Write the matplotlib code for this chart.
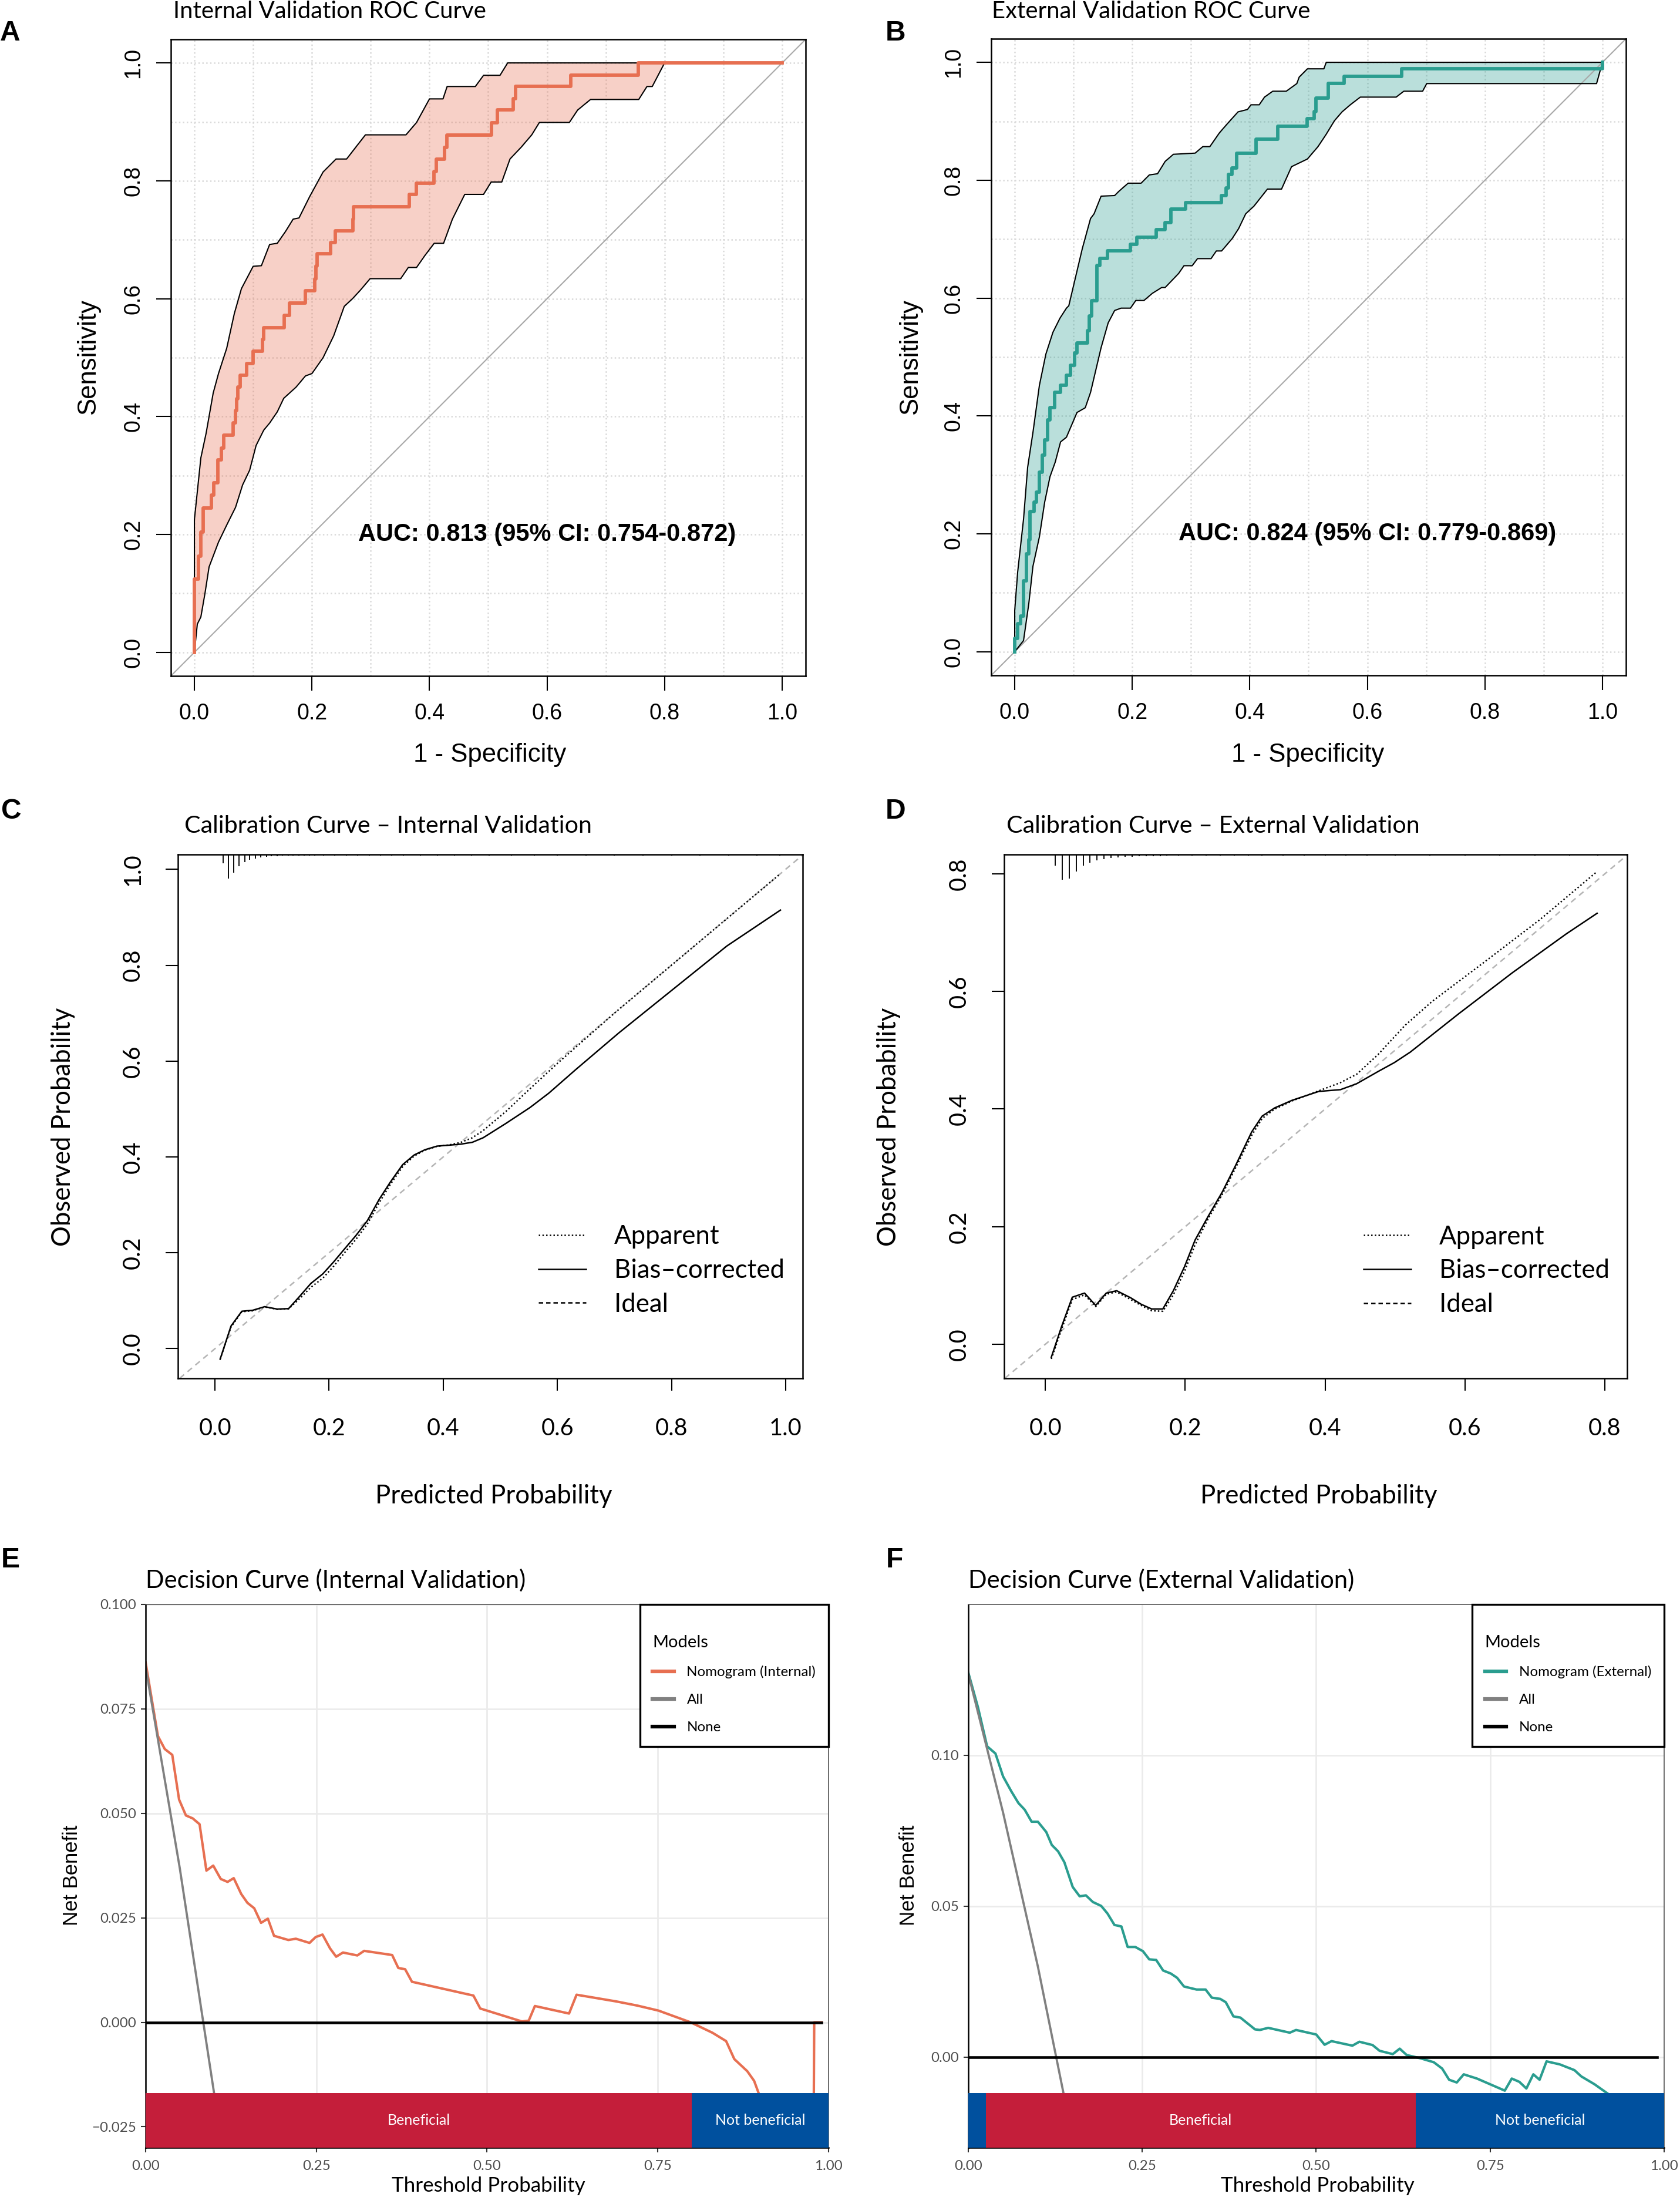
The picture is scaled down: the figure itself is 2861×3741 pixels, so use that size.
import numpy as np
import matplotlib.pyplot as plt
from matplotlib.lines import Line2D

W, H = 2862, 3741
DPI = 300

ORANGE = '#E76F51'
TEAL = '#2A9D8F'
RED = '#C41E3A'
BLUE = '#00509E'
MYR = ['Lato', 'DejaVu Sans']
HEL = ['Liberation Sans', 'DejaVu Sans']
NARROW = ['Liberation Sans Narrow', 'Liberation Sans', 'DejaVu Sans']

# ---------------- ROC data (1 - specificity, sensitivity) ----------------
roc_int = [(0, 0), (0, 0.124), (0.007, 0.163), (0.011, 0.204), (0.015, 0.245), (0.029, 0.267),
           (0.033, 0.288), (0.040, 0.327), (0.046, 0.347), (0.05, 0.368), (0.066, 0.389), (0.07, 0.41),
           (0.072, 0.43), (0.074, 0.45), (0.078, 0.47), (0.089, 0.49), (0.1, 0.511), (0.116, 0.531),
           (0.118, 0.551), (0.153, 0.572), (0.162, 0.593), (0.189, 0.614), (0.205, 0.634), (0.207, 0.655),
           (0.209, 0.676), (0.232, 0.695), (0.24, 0.715), (0.27, 0.735), (0.271, 0.756), (0.366, 0.777),
           (0.378, 0.796), (0.408, 0.816), (0.412, 0.837), (0.426, 0.857), (0.43, 0.878), (0.505, 0.899),
           (0.515, 0.92), (0.542, 0.939), (0.546, 0.96), (0.64, 0.979), (0.755, 1.0), (1.0, 1.0)]
roc_int_upper = [(0, 0), (0, 0.225), (0.011, 0.33), (0.02, 0.372), (0.032, 0.44), (0.041, 0.473),
                 (0.055, 0.516), (0.068, 0.575), (0.08, 0.617), (0.1, 0.655), (0.114, 0.656), (0.128, 0.692),
                 (0.141, 0.694), (0.155, 0.714), (0.168, 0.735), (0.178, 0.737), (0.196, 0.773), (0.219, 0.815),
                 (0.241, 0.837), (0.259, 0.837), (0.273, 0.855), (0.291, 0.878), (0.36, 0.878), (0.378, 0.899),
                 (0.4, 0.939), (0.423, 0.939), (0.43, 0.96), (0.478, 0.96), (0.492, 0.979), (0.52, 0.979),
                 (0.533, 1.0), (1.0, 1.0)]
roc_int_lower = [(0, 0), (0.005, 0.048), (0.011, 0.06), (0.018, 0.1), (0.025, 0.145), (0.041, 0.187),
                 (0.055, 0.216), (0.07, 0.246), (0.082, 0.284), (0.094, 0.309), (0.105, 0.351), (0.118, 0.377),
                 (0.128, 0.389), (0.141, 0.408), (0.152, 0.431), (0.173, 0.45), (0.189, 0.469), (0.2, 0.473),
                 (0.219, 0.5), (0.237, 0.537), (0.255, 0.587), (0.269, 0.6), (0.282, 0.614), (0.299, 0.634),
                 (0.351, 0.634), (0.364, 0.653), (0.378, 0.653), (0.392, 0.673), (0.408, 0.694), (0.424, 0.694),
                 (0.439, 0.735), (0.46, 0.777), (0.492, 0.777), (0.505, 0.798), (0.523, 0.798), (0.537, 0.837),
                 (0.556, 0.857), (0.574, 0.878), (0.587, 0.899), (0.638, 0.899), (0.652, 0.92), (0.674, 0.938),
                 (0.756, 0.938), (0.77, 0.96), (0.779, 0.96), (0.8, 1.0), (1.0, 1.0)]

roc_ext = [(0, 0), (0, 0.023), (0.005, 0.048), (0.01, 0.061), (0.015, 0.12), (0.02, 0.166), (0.024, 0.19),
           (0.026, 0.238), (0.033, 0.254), (0.037, 0.271), (0.042, 0.305), (0.047, 0.334), (0.051, 0.36),
           (0.056, 0.393), (0.06, 0.414), (0.068, 0.44), (0.078, 0.452), (0.088, 0.469), (0.095, 0.486),
           (0.102, 0.507), (0.106, 0.524), (0.124, 0.545), (0.127, 0.57), (0.131, 0.596), (0.14, 0.655),
           (0.145, 0.667), (0.158, 0.68), (0.197, 0.691), (0.208, 0.703), (0.241, 0.716), (0.256, 0.728),
           (0.266, 0.751), (0.291, 0.762), (0.352, 0.774), (0.36, 0.787), (0.364, 0.81), (0.37, 0.821),
           (0.378, 0.846), (0.411, 0.87), (0.448, 0.892), (0.498, 0.905), (0.509, 0.916), (0.512, 0.939),
           (0.533, 0.964), (0.56, 0.976), (0.658, 0.989), (1.0, 1.0)]
roc_ext_upper = [(0, 0), (0, 0.07), (0.005, 0.135), (0.015, 0.225), (0.022, 0.313), (0.031, 0.372),
                 (0.042, 0.452), (0.053, 0.505), (0.065, 0.542), (0.077, 0.566), (0.088, 0.583), (0.092, 0.587),
                 (0.101, 0.625), (0.115, 0.684), (0.129, 0.735), (0.135, 0.743), (0.147, 0.773), (0.17, 0.774),
                 (0.177, 0.781), (0.193, 0.795), (0.215, 0.795), (0.229, 0.809), (0.243, 0.811), (0.256, 0.832),
                 (0.27, 0.844), (0.307, 0.846), (0.32, 0.857), (0.332, 0.857), (0.348, 0.88), (0.361, 0.895),
                 (0.38, 0.916), (0.396, 0.92), (0.402, 0.928), (0.416, 0.928), (0.425, 0.941), (0.439, 0.951),
                 (0.462, 0.951), (0.48, 0.964), (0.484, 0.975), (0.498, 0.989), (0.526, 0.989), (0.53, 1.0),
                 (1.0, 1.0)]
roc_ext_lower = [(0, 0), (0.015, 0.019), (0.024, 0.082), (0.031, 0.145), (0.042, 0.195), (0.051, 0.254),
                 (0.06, 0.297), (0.069, 0.322), (0.078, 0.356), (0.088, 0.364), (0.106, 0.406), (0.12, 0.414),
                 (0.129, 0.44), (0.138, 0.478), (0.147, 0.516), (0.159, 0.558), (0.17, 0.579), (0.181, 0.583),
                 (0.197, 0.583), (0.206, 0.596), (0.22, 0.596), (0.234, 0.608), (0.25, 0.618), (0.256, 0.618),
                 (0.279, 0.642), (0.288, 0.655), (0.302, 0.655), (0.311, 0.667), (0.334, 0.667), (0.343, 0.68),
                 (0.352, 0.68), (0.37, 0.701), (0.381, 0.718), (0.393, 0.743), (0.407, 0.756), (0.43, 0.785),
                 (0.454, 0.785), (0.471, 0.823), (0.498, 0.836), (0.516, 0.857), (0.53, 0.878), (0.544, 0.901),
                 (0.557, 0.916), (0.571, 0.928), (0.588, 0.941), (0.649, 0.941), (0.662, 0.951), (0.694, 0.951),
                 (0.701, 0.964), (0.99, 0.964), (1.0, 1.0)]

auc_int = 'AUC: 0.813 (95% CI: 0.754-0.872)'
auc_ext = 'AUC: 0.824 (95% CI: 0.779-0.869)'

# ---------------- calibration data (predicted, observed) ----------------
cal_int_bias = [(0.009, -0.022), (0.028, 0.047), (0.047, 0.078), (0.066, 0.08), (0.087, 0.0875), (0.109, 0.0825),
                (0.129, 0.0835), (0.149, 0.11), (0.168, 0.136), (0.189, 0.156), (0.208, 0.181), (0.227, 0.208),
                (0.247, 0.236), (0.267, 0.267), (0.288, 0.312), (0.307, 0.347), (0.329, 0.384), (0.349, 0.404),
                (0.368, 0.415), (0.389, 0.4225), (0.41, 0.4245), (0.43, 0.4265), (0.451, 0.4305), (0.47, 0.44),
                (0.51, 0.47), (0.552, 0.503), (0.585, 0.533), (0.633, 0.583), (0.708, 0.659), (0.803, 0.75),
                (0.897, 0.84), (0.991, 0.915)]
cal_int_app = [(0.009, -0.022), (0.028, 0.045), (0.047, 0.077), (0.066, 0.079), (0.087, 0.087), (0.109, 0.082),
               (0.129, 0.083), (0.149, 0.105), (0.168, 0.128), (0.189, 0.147), (0.208, 0.172), (0.227, 0.2),
               (0.247, 0.228), (0.267, 0.26), (0.288, 0.305), (0.307, 0.342), (0.329, 0.38), (0.349, 0.402),
               (0.368, 0.414), (0.389, 0.422), (0.41, 0.425), (0.43, 0.43), (0.451, 0.44), (0.47, 0.455),
               (0.51, 0.495), (0.55, 0.54), (0.6, 0.595), (0.7, 0.7), (0.8, 0.8), (0.9, 0.9), (0.99, 0.99)]
cal_int_spike_x = [0.014, 0.024, 0.033, 0.042, 0.052, 0.061, 0.071, 0.080, 0.090, 0.099, 0.109, 0.118, 0.128,
                   0.137, 0.147, 0.156, 0.166, 0.175, 0.19, 0.21, 0.23, 0.25, 0.27, 0.29, 0.31, 0.33, 0.36,
                   0.39, 0.42, 0.45, 0.48, 0.52, 0.56, 0.60, 0.65, 0.70, 0.75, 0.80, 0.85, 0.90, 0.95, 0.99]
cal_int_spike_h = [0.018, 0.05, 0.038, 0.025, 0.016, 0.011, 0.008, 0.006, 0.005, 0.004, 0.004, 0.003, 0.003,
                   0.003, 0.003, 0.003, 0.002, 0.002, 0.002, 0.002, 0.002, 0.002, 0.002, 0.002, 0.002, 0.002,
                   0.002, 0.002, 0.002, 0.002, 0.002, 0.002, 0.002, 0.002, 0.002, 0.002, 0.002, 0.002, 0.002,
                   0.002, 0.002, 0.002]

cal_ext_bias = [(0.0085, -0.022), (0.023, 0.0295), (0.0385, 0.080), (0.056, 0.087), (0.072, 0.066),
                (0.087, 0.087), (0.102, 0.091), (0.122, 0.079), (0.137, 0.068), (0.152, 0.06), (0.168, 0.06),
                (0.183, 0.091), (0.199, 0.132), (0.214, 0.177), (0.233, 0.218), (0.253, 0.259), (0.272, 0.304),
                (0.295, 0.361), (0.31, 0.388), (0.328, 0.402), (0.353, 0.415), (0.391, 0.43), (0.422, 0.433),
                (0.445, 0.443), (0.476, 0.464), (0.499, 0.479), (0.522, 0.497), (0.591, 0.562), (0.668, 0.632),
                (0.745, 0.698), (0.789, 0.733)]
cal_ext_app = [(0.0085, -0.025), (0.023, 0.025), (0.0385, 0.076), (0.056, 0.084), (0.072, 0.064), (0.087, 0.085),
               (0.102, 0.089), (0.122, 0.076), (0.137, 0.066), (0.152, 0.057), (0.168, 0.056), (0.183, 0.084),
               (0.199, 0.124), (0.214, 0.169), (0.233, 0.214), (0.253, 0.255), (0.272, 0.3), (0.295, 0.355),
               (0.31, 0.384), (0.328, 0.4), (0.353, 0.414), (0.391, 0.431), (0.422, 0.445), (0.445, 0.459),
               (0.476, 0.493), (0.514, 0.542), (0.553, 0.583), (0.63, 0.652), (0.707, 0.722), (0.789, 0.804)]
cal_ext_spike_x = [0.014, 0.024, 0.034, 0.044, 0.054, 0.064, 0.074, 0.084, 0.094, 0.104, 0.114, 0.124, 0.134,
                   0.144, 0.154, 0.164, 0.174, 0.19, 0.21, 0.23, 0.25, 0.27, 0.29, 0.31, 0.34, 0.37, 0.40,
                   0.43, 0.46, 0.50, 0.55, 0.60, 0.65, 0.70, 0.75, 0.79]
cal_ext_spike_h = [0.019, 0.043, 0.041, 0.029, 0.019, 0.014, 0.01, 0.008, 0.006, 0.005, 0.004, 0.004, 0.003,
                   0.003, 0.003, 0.003, 0.002, 0.002, 0.002, 0.002, 0.002, 0.002, 0.002, 0.002, 0.002, 0.002,
                   0.002, 0.002, 0.002, 0.002, 0.002, 0.002, 0.002, 0.002, 0.002, 0.002]

# ---------------- decision curve data (threshold, net benefit) ----------------
dca_int = [(0, 0.0861), (0.018, 0.0685), (0.028, 0.0654), (0.039, 0.064), (0.049, 0.0533), (0.059, 0.0495),
           (0.069, 0.0488), (0.079, 0.0474), (0.089, 0.0363), (0.099, 0.0375), (0.110, 0.0343), (0.120, 0.0336),
           (0.129, 0.0345), (0.140, 0.0307), (0.149, 0.0286), (0.159, 0.0273), (0.169, 0.0238), (0.179, 0.0248),
           (0.188, 0.0207), (0.209, 0.0197), (0.220, 0.020), (0.240, 0.019), (0.249, 0.0204), (0.259, 0.021),
           (0.270, 0.0177), (0.279, 0.0157), (0.289, 0.0167), (0.310, 0.016), (0.320, 0.0171), (0.361, 0.0161),
           (0.370, 0.013), (0.380, 0.0127), (0.390, 0.0097), (0.480, 0.0064), (0.490, 0.0033), (0.551, 0.0002),
           (0.561, 0.0004), (0.570, 0.0039), (0.620, 0.0021), (0.631, 0.0066), (0.689, 0.005), (0.72, 0.004),
           (0.751, 0.0028), (0.798, 0.0), (0.83, -0.0025), (0.850, -0.0045), (0.862, -0.0088), (0.881, -0.0117),
           (0.891, -0.014), (0.9, -0.018), (0.92, -0.026), (0.94, -0.036), (0.96, -0.048), (0.977, -0.06),
           (0.979, 0.0), (0.99, 0.0)]
dca_ext = [(0, 0.1274), (0.014, 0.1158), (0.027, 0.103), (0.039, 0.1006), (0.05, 0.093), (0.062, 0.088),
           (0.072, 0.0842), (0.081, 0.082), (0.091, 0.078), (0.1, 0.078), (0.112, 0.0746), (0.12, 0.0703),
           (0.129, 0.0682), (0.138, 0.0646), (0.15, 0.0564), (0.16, 0.0533), (0.169, 0.0536), (0.179, 0.0514),
           (0.191, 0.0501), (0.2, 0.0476), (0.21, 0.0438), (0.22, 0.0433), (0.229, 0.0365), (0.24, 0.0365),
           (0.251, 0.0351), (0.26, 0.0324), (0.27, 0.0322), (0.28, 0.0287), (0.291, 0.0277), (0.3, 0.0263),
           (0.31, 0.0234), (0.328, 0.0224), (0.341, 0.0224), (0.35, 0.0197), (0.362, 0.0193), (0.37, 0.0182),
           (0.381, 0.0135), (0.391, 0.0131), (0.412, 0.0092), (0.419, 0.009), (0.431, 0.0097), (0.462, 0.0081),
           (0.471, 0.009), (0.5, 0.0075), (0.512, 0.0041), (0.522, 0.0053), (0.552, 0.0038), (0.562, 0.0051),
           (0.581, 0.004), (0.591, 0.0021), (0.61, 0.001), (0.62, 0.0028), (0.63, 0.0007), (0.65, -0.0004),
           (0.669, -0.0017), (0.681, -0.0038), (0.691, -0.0075), (0.702, -0.0084), (0.712, -0.0057),
           (0.731, -0.0071), (0.75, -0.009), (0.771, -0.0111), (0.781, -0.0071), (0.792, -0.0082),
           (0.802, -0.0104), (0.812, -0.0057), (0.821, -0.0075), (0.831, -0.0014), (0.85, -0.0024),
           (0.871, -0.0043), (0.881, -0.0064), (0.9, -0.009), (0.919, -0.0121), (0.95, -0.018), (0.99, -0.026)]
all_int_t = [0, 0.05, 0.10, 0.15]
all_int_nb = [0.085, 0.0369, -0.0167, -0.0765]
all_ext_t = [0, 0.05, 0.10, 0.15]
all_ext_nb = [0.127, 0.081, 0.030, -0.027]
none_t = [0, 0.99]
none_nb = [0, 0]
bar_int_edges = [0, 0.8, 1.0]
bar_int_colors = [RED, BLUE]
bar_int_labels = ['Beneficial', 'Not beneficial']
bar_ext_edges = [0, 0.025, 0.643, 1.0]
bar_ext_colors = [BLUE, RED, BLUE]
bar_ext_labels = ['', 'Beneficial', 'Not beneficial']

fig = plt.figure(figsize=(W / DPI, H / DPI), dpi=DPI)


def box(l, t, r, b):
    return fig.add_axes([l / W, 1 - b / H, (r - l) / W, (b - t) / H])


def put(x, y, s, **kw):
    fig.text(x / W, 1 - y / H, s, **kw)


def xy(pts):
    a = np.array(pts, dtype=float)
    return a[:, 0], a[:, 1]


def roc_panel(ax, curve, upper, lower, color, auc_txt):
    ax.set_xlim(-0.04, 1.04)
    ax.set_ylim(-0.04, 1.04)
    grid = np.linspace(0, 1, 11)
    ax.set_xticks(grid, minor=True)
    ax.set_yticks(grid, minor=True)
    ax.set_xticks(np.linspace(0, 1, 6))
    ax.set_yticks(np.linspace(0, 1, 6))
    ax.grid(which='both', ls=':', color='#d9d9d9', lw=0.6)
    ax.set_axisbelow(True)
    ax.tick_params(which='minor', length=0)
    ax.tick_params(which='major', length=6, width=0.5, labelsize=9, pad=5)
    ax.set_xticklabels(['0.0', '0.2', '0.4', '0.6', '0.8', '1.0'], family=HEL)
    ax.set_yticklabels(['0.0', '0.2', '0.4', '0.6', '0.8', '1.0'], family=HEL, rotation=90, va='center')
    for s in ax.spines.values():
        s.set_linewidth(0.6)
    ax.plot([-0.04, 1.04], [-0.04, 1.04], color='#a8a8a8', lw=0.5)
    ux, uy = xy(upper)
    lx, ly = xy(lower)
    ax.fill(np.r_[ux, lx[::-1]], np.r_[uy, ly[::-1]], color=color, alpha=0.32, lw=0)
    ax.plot(ux, uy, color='black', lw=0.5)
    ax.plot(lx, ly, color='black', lw=0.5)
    cx, cy = xy(curve)
    ax.plot(cx, cy, drawstyle='steps-post', color=color, lw=1.4)
    ax.text(0.6, 0.2, auc_txt, ha='center', va='center', fontsize=10, fontweight='bold', family=HEL)


def cal_panel(ax, app, bias, spx, sph, xlim, ylim, ticks, labels, leg_xy):
    ax.set_xlim(xlim)
    ax.set_ylim(ylim)
    ax.axline((0, 0), (1, 1), color='#b5b5b5', ls=(0, (4, 3)), lw=0.6)
    ax.vlines(spx, ylim[1] - np.array(sph), ylim[1], color='black', lw=0.45)
    ax_, ay = xy(app)
    bx, by = xy(bias)
    ax.plot(ax_, ay, color='black', ls=(0, (1, 1.5)), lw=0.6)
    ax.plot(bx, by, color='black', lw=0.6)
    ax.set_xticks(ticks)
    ax.set_yticks(ticks)
    ax.set_xticklabels(labels, family=MYR)
    ax.set_yticklabels(labels, family=MYR, rotation=90, va='center')
    ax.tick_params(axis='x', length=5, width=0.5, labelsize=9.5, pad=11)
    ax.tick_params(axis='y', length=5, width=0.5, labelsize=9.5, pad=9)
    for s in ax.spines.values():
        s.set_linewidth(0.6)
    handles = [Line2D([], [], color='black', ls=(0, (1, 1.5)), lw=0.6),
               Line2D([], [], color='black', lw=0.6),
               Line2D([], [], color='black', ls=(0, (3, 2)), lw=0.6)]
    ax.legend(handles, ['Apparent', 'Bias\u2013corrected', 'Ideal'], loc='center left',
              bbox_to_anchor=leg_xy, bbox_transform=ax.transData, frameon=False,
              prop={'family': MYR, 'size': 10.5}, handlelength=1.85, handletextpad=1.1,
              labelspacing=0.38, borderpad=0, borderaxespad=0)


def dca_panel(ax, curve, all_t, all_nb, color, label, ylim, yticks, ylabels, edges, colors, blabels, bar_top):
    ax.set_xlim(0, 1)
    ax.set_ylim(ylim)
    ax.set_xticks([0, 0.25, 0.5, 0.75, 1.0])
    ax.set_xticklabels(['0.00', '0.25', '0.50', '0.75', '1.00'], family=MYR)
    ax.set_yticks(yticks)
    ax.set_yticklabels(ylabels, family=MYR)
    ax.grid(color='#ebebeb', lw=0.65)
    ax.set_axisbelow(True)
    ax.tick_params(length=2, width=0.5, color='#333333', labelsize=5.8, labelcolor='#4d4d4d')
    ax.tick_params(axis='x', pad=3)
    ax.tick_params(axis='y', pad=1.8)
    for k in ['top', 'right']:
        ax.spines[k].set_color('#555555')
        ax.spines[k].set_linewidth(0.4)
    for k in ['left', 'bottom']:
        ax.spines[k].set_color('black')
        ax.spines[k].set_linewidth(0.6)
    cx, cy = xy(curve)
    ax.plot(cx, cy, color=color, lw=1.0, label=label, zorder=2)
    ax.plot(all_t, all_nb, color='#808080', lw=0.9, label='All', zorder=2)
    ax.plot(none_t, none_nb, color='black', lw=1.1, label='None', zorder=2)
    for i, c in enumerate(colors):
        ax.fill_between([edges[i], edges[i + 1]], ylim[0], bar_top, color=c, lw=0, zorder=3)
        if blabels[i]:
            ax.text((edges[i] + edges[i + 1]) / 2, (ylim[0] + bar_top) / 2, blabels[i], color='white',
                    ha='center', va='center', fontsize=6, family=MYR, zorder=4)
    leg = ax.legend(loc='upper right', bbox_to_anchor=(1.0, 1.0), borderaxespad=0, title='\nModels',
                    prop={'family': MYR, 'size': 5.8}, title_fontproperties={'family': MYR, 'size': 7},
                    alignment='left', fancybox=False, framealpha=1, edgecolor='black',
                    handlelength=1.5, handletextpad=0.9, borderpad=0.9, labelspacing=1.08)
    leg.get_frame().set_linewidth(0.8)
    leg.set_zorder(5)
    for ln in leg.get_lines():
        ln.set_linewidth(1.5)


# ---------------- panels ----------------
axA = box(291, 67, 1372, 1151)
roc_panel(axA, roc_int, roc_int_upper, roc_int_lower, ORANGE, auc_int)
axB = box(1688, 66, 2769, 1150)
roc_panel(axB, roc_ext, roc_ext_upper, roc_ext_lower, TEAL, auc_ext)

axC = box(303, 1455, 1367, 2347)
cal_panel(axC, cal_int_app, cal_int_bias, cal_int_spike_x, cal_int_spike_h, (-0.065, 1.03), (-0.062, 1.031),
          [0, 0.2, 0.4, 0.6, 0.8, 1.0], ['0.0', '0.2', '0.4', '0.6', '0.8', '1.0'], (0.567, 0.163))
axD = box(1710, 1455, 2771, 2347)
cal_panel(axD, cal_ext_app, cal_ext_bias, cal_ext_spike_x, cal_ext_spike_h, (-0.059, 0.832), (-0.058, 0.833),
          [0, 0.2, 0.4, 0.6, 0.8], ['0.0', '0.2', '0.4', '0.6', '0.8'], (0.455, 0.125))

axE = box(248, 2732, 1411, 3657)
dca_panel(axE, dca_int, all_int_t, all_int_nb, ORANGE, 'Nomogram (Internal)', (-0.03, 0.1),
          [-0.025, 0, 0.025, 0.05, 0.075, 0.1], ['\u22120.025', '0.000', '0.025', '0.050', '0.075', '0.100'],
          bar_int_edges, bar_int_colors, bar_int_labels, -0.017)
axF = box(1649, 2732, 2834, 3657)
dca_panel(axF, dca_ext, all_ext_t, all_ext_nb, TEAL, 'Nomogram (External)', (-0.03, 0.15),
          [0, 0.05, 0.10], ['0.00', '0.05', '0.10'],
          bar_ext_edges, bar_ext_colors, bar_ext_labels, -0.012)

# ---------------- texts ----------------
letter = dict(fontsize=11.5, fontweight='bold', family=HEL, va='baseline', ha='left')
put(0, 69, 'A', **letter)
put(1508, 69, 'B', **letter)
put(2, 1394, 'C', **letter)
put(1508, 1394, 'D', **letter)
put(2, 2669, 'E', **letter)
put(1509, 2669, 'F', **letter)

title = dict(fontsize=9.6, family=MYR, va='baseline', ha='left')
put(295, 31, 'Internal Validation ROC Curve', **title)
put(1689, 31, 'External Validation ROC Curve', **title)
ctitle = dict(fontsize=9.9, family=MYR, va='baseline', ha='left')
put(314, 1418, 'Calibration Curve \u2013 Internal Validation', **ctitle)
put(1714, 1418, 'Calibration Curve \u2013 External Validation', **ctitle)
put(248, 2704, 'Decision Curve (Internal Validation)', fontsize=10, family=MYR, va='baseline', ha='left')
put(1649, 2704, 'Decision Curve (External Validation)', fontsize=10, family=MYR, va='baseline', ha='left')

lab = dict(fontsize=10.5, family=HEL, ha='center', va='center')
put(834, 1286, '1 - Specificity', **lab)
put(2227, 1286, '1 - Specificity', **lab)
put(151, 607, 'Sensitivity', rotation=90, **lab)
put(1551, 607, 'Sensitivity', rotation=90, **lab)

clab = dict(fontsize=10.5, family=MYR, ha='center', va='center')
put(841, 2548, 'Predicted Probability', **clab)
put(2246, 2548, 'Predicted Probability', **clab)
put(108, 1919, 'Observed Probability', rotation=90, **clab)
put(1514, 1919, 'Observed Probability', rotation=90, **clab)

put(832, 3722, 'Threshold Probability', fontsize=8.4, family=MYR, ha='center', va='center')
put(2244, 3722, 'Threshold Probability', fontsize=8.4, family=MYR, ha='center', va='center')
put(123, 3193, 'Net Benefit', rotation=90, fontsize=8.3, family=NARROW, ha='center', va='center')
put(1548, 3193, 'Net Benefit', rotation=90, fontsize=8.3, family=NARROW, ha='center', va='center')

fig.savefig('out.png', dpi=DPI)
